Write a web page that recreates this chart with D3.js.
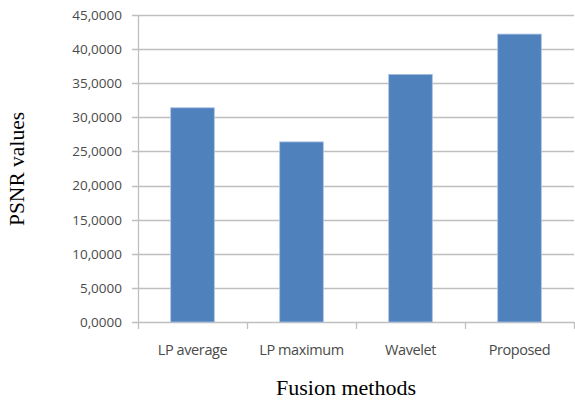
<!DOCTYPE html>
<html><head><meta charset="utf-8">
<script src="https://cdn.jsdelivr.net/npm/d3@7"></script>
<style>body{margin:0;background:#fff}svg{display:block}</style>
</head><body>
<script>
const categories = ["LP average", "LP maximum", "Wavelet", "Proposed"];
const values = [31.4, 26.4, 36.3, 42.2];
const yTicks = [0, 5, 10, 15, 20, 25, 30, 35, 40, 45];

const W = 575, H = 401;
const m = {left: 138, right: 1, top: 15, bottom: 79};
const svg = d3.select("body").append("svg").attr("width", W).attr("height", H);

const x = d3.scaleBand().domain(categories).range([m.left, W - m.right]).paddingInner(0.6).paddingOuter(0.3);
const y = d3.scaleLinear().domain([0, 45]).range([H - m.bottom, m.top]);

// gridlines
svg.append("g").selectAll("line").data(yTicks).join("line")
  .attr("x1", m.left - 6).attr("x2", W - m.right)
  .attr("y1", d => Math.round(y(d)) + 0.5).attr("y2", d => Math.round(y(d)) + 0.5)
  .attr("stroke", "#bfbfbf").attr("stroke-width", 1.3);

// y axis line
svg.append("line").attr("x1", m.left + 0.5).attr("x2", m.left + 0.5)
  .attr("y1", y(45)).attr("y2", y(0) + 7).attr("stroke", "#bfbfbf").attr("stroke-width", 1.3);

// category ticks
const bounds = categories.map(c => x(c) - x.step() * x.paddingInner() / 2);
bounds.push(W - m.right - 0.5);
svg.append("g").selectAll("line").data(bounds.slice(1)).join("line")
  .attr("x1", d => Math.round(d) + 0.5).attr("x2", d => Math.round(d) + 0.5)
  .attr("y1", y(0)).attr("y2", y(0) + 7).attr("stroke", "#bfbfbf").attr("stroke-width", 1.3);

// y labels
svg.append("g").selectAll("text").data(yTicks).join("text")
  .attr("x", m.left - 16).attr("y", d => y(d)).attr("dy", "0.36em")
  .attr("text-anchor", "end").attr("font-family", "Open Sans, Noto Sans, sans-serif")
  .attr("font-size", 13.5).attr("fill", "#4a4a4a")
  .text(d => d + ",0000");

// bars
svg.append("g").selectAll("rect").data(values).join("rect")
  .attr("x", (d, i) => x(categories[i])).attr("width", x.bandwidth())
  .attr("y", d => y(d)).attr("height", d => y(0) - y(d))
  .attr("fill", "#4f81bd").attr("stroke", "#a9c1e2").attr("stroke-width", 0.8);

// x labels
svg.append("g").selectAll("text").data(categories).join("text")
  .attr("x", d => x(d) + x.bandwidth() / 2).attr("y", y(0) + 33)
  .attr("text-anchor", "middle").attr("font-family", "Open Sans, Noto Sans, sans-serif")
  .attr("font-size", 14.5).attr("fill", "#4a4a4a").attr("letter-spacing", -0.4)
  .text(d => d);

// axis titles
svg.append("text").attr("x", 346).attr("y", 395)
  .attr("text-anchor", "middle").attr("font-family", "Liberation Serif, Times New Roman, serif")
  .attr("font-size", 22).attr("fill", "#000").text("Fusion methods");
svg.append("text").attr("transform", "translate(24,169) rotate(-90)")
  .attr("text-anchor", "middle").attr("font-family", "Liberation Serif, Times New Roman, serif")
  .attr("font-size", 21.5).attr("fill", "#000").text("PSNR values");
</script>
</body></html>
